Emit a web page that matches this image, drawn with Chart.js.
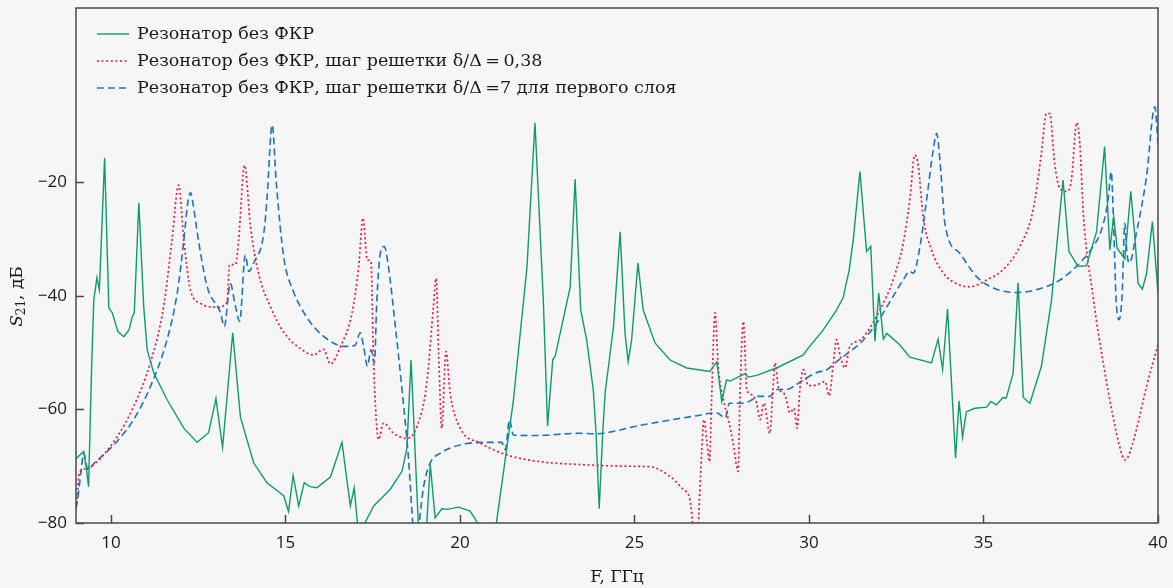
<!DOCTYPE html>
<html>
<head>
<meta charset="utf-8">
<script src="https://cdn.jsdelivr.net/npm/chart.js@4/dist/chart.umd.min.js"></script>
<style>
  html, body { margin: 0; padding: 0; background: #f6f6f6; }
  #wrap { width: 1173px; height: 588px; position: relative; }
</style>
</head>
<body>
<div id="wrap"><canvas id="chart"></canvas></div>
<script>
// частота, ГГц и S21, дБ для трёх кривых
const greenF = [9.0, 9.22, 9.3, 9.36, 9.45, 9.51, 9.6, 9.67, 9.82, 9.94, 10.04, 10.2, 10.37, 10.52, 10.61, 10.67, 10.8, 10.94, 11.04, 11.23, 11.61, 12.09, 12.47, 12.8, 13.01, 13.2, 13.49, 13.71, 14.09, 14.47, 14.95, 15.09, 15.22, 15.38, 15.54, 15.7, 15.9, 16.29, 16.62, 16.86, 16.97, 17.07, 17.16, 17.26, 17.53, 18.0, 18.34, 18.48, 18.6, 18.72, 18.81, 18.93, 19.05, 19.15, 19.29, 19.48, 19.63, 19.96, 20.29, 20.53, 20.75, 21.04, 21.53, 21.92, 22.15, 22.39, 22.51, 22.66, 22.73, 23.16, 23.3, 23.46, 23.63, 23.82, 23.9, 23.99, 24.09, 24.16, 24.4, 24.59, 24.73, 24.82, 24.92, 25.1, 25.25, 25.59, 26.02, 26.5, 27.16, 27.36, 27.5, 27.64, 27.74, 28.17, 28.26, 28.5, 29.07, 29.84, 29.98, 30.41, 30.79, 30.98, 31.15, 31.27, 31.46, 31.65, 31.77, 31.89, 32.0, 32.13, 32.23, 32.6, 32.89, 33.51, 33.7, 33.83, 33.97, 34.2, 34.3, 34.4, 34.51, 34.75, 35.09, 35.21, 35.37, 35.56, 35.65, 35.85, 35.99, 36.14, 36.33, 36.66, 36.95, 37.28, 37.45, 37.71, 37.95, 38.24, 38.47, 38.62, 38.73, 38.83, 39.05, 39.22, 39.33, 39.43, 39.55, 39.67, 39.84, 40.0];
const greenS = [-68.7, -67.4, -70.5, -73.6, -52, -40.7, -36.8, -38.9, -15.7, -42.1, -43.0, -46.3, -47.2, -46, -43.7, -43.0, -23.6, -41.9, -49.5, -53.6, -58.3, -63.3, -65.8, -64.1, -58.1, -66.7, -46.5, -61.3, -69.4, -72.9, -75.2, -78.0, -71.6, -77.0, -72.9, -73.6, -73.8, -71.9, -65.8, -77.0, -73.8, -80.5, -84, -80.2, -77, -74.1, -70.9, -66.8, -51.3, -68.0, -80.5, -84, -80, -69.7, -79.1, -77.5, -77.6, -77.2, -77.9, -80.2, -84, -80.2, -58.5, -35, -9.5, -40.9, -62.9, -51.2, -50.6, -38.4, -19.4, -42.5, -47.7, -56.5, -64.2, -77.5, -64.2, -57.1, -45.4, -28.7, -46.6, -51.6, -47.7, -34.2, -42.5, -48.3, -51.3, -52.7, -53.3, -51.6, -58.6, -54.8, -55.0, -53.7, -54.3, -54.0, -52.7, -50.4, -49.2, -46.0, -42.5, -40.3, -35.5, -30.1, -18.1, -32.2, -31.3, -48, -39.5, -47.6, -46.6, -48.6, -50.8, -51.8, -47.6, -53, -42.3, -68.6, -58.5, -64.9, -60.4, -59.8, -59.6, -58.6, -59.2, -57.9, -58.0, -53.6, -37.7, -57.9, -58.9, -52.4, -40.7, -19.6, -32.2, -34.8, -34.7, -28.7, -13.7, -31.9, -26, -31.6, -33.5, -21.6, -29, -37.8, -38.8, -36.2, -26.9, -39.5];

const redF = [9.0, 9.1, 9.19, 9.39, 9.7, 10.18, 10.65, 11.13, 11.51, 11.75, 11.94, 12.09, 12.28, 12.56, 13.04, 13.33, 13.4, 13.57, 13.66, 13.83, 14.0, 14.23, 14.57, 14.95, 15.43, 15.81, 16.09, 16.29, 16.58, 16.91, 17.1, 17.22, 17.35, 17.45, 17.53, 17.67, 17.81, 18.1, 18.48, 18.77, 19.05, 19.24, 19.32, 19.39, 19.48, 19.6, 19.72, 20.01, 20.58, 21.34, 22.3, 23.44, 24.78, 25.45, 26.02, 26.4, 26.59, 26.67, 26.76, 26.83, 26.93, 26.99, 27.07, 27.15, 27.21, 27.31, 27.4, 27.55, 27.69, 27.83, 27.97, 28.02, 28.12, 28.22, 28.36, 28.5, 28.6, 28.71, 28.88, 28.96, 29.03, 29.12, 29.31, 29.46, 29.57, 29.66, 29.74, 29.84, 29.98, 30.22, 30.46, 30.58, 30.69, 30.79, 30.89, 31.03, 31.17, 31.46, 32.03, 32.41, 32.7, 32.89, 33.03, 33.13, 33.27, 33.51, 33.85, 34.32, 34.61, 35.09, 35.56, 36.04, 36.42, 36.66, 36.8, 36.9, 37.04, 37.19, 37.38, 37.52, 37.67, 37.76, 37.86, 38.14, 38.43, 38.71, 38.9, 39.05, 39.14, 39.38, 39.67, 40.0];
const redS = [-77.4, -71.2, -70.6, -70.2, -68.6, -64.8, -59.5, -51.8, -41.9, -30.2, -20.5, -30.2, -39, -41.3, -42, -41, -34.5, -34.5, -30.2, -17, -27.8, -36, -41.9, -46.4, -49.3, -50.4, -49.4, -52, -48.9, -43, -34.8, -26.3, -33.7, -33.9, -52.4, -65.3, -62.4, -64.2, -65.1, -63, -55.4, -41.9, -36.9, -50.1, -63.3, -49.8, -57.1, -63.3, -65.9, -68, -69.2, -69.7, -70, -70.1, -71.8, -74.1, -75.9, -80.5, -90, -80.5, -67.1, -61.8, -65.3, -69.2, -58.3, -43, -52.4, -58.3, -61.8, -65.9, -70.9, -58.3, -44.5, -56.5, -57.4, -58.9, -61.8, -58.9, -64.2, -57.1, -51.8, -56, -57.4, -60.6, -59.8, -63.3, -56.5, -53, -55.8, -55.7, -55.1, -57.6, -52.4, -47.7, -50.4, -52.7, -48.9, -47.8, -42.5, -37.2, -30.7, -23.1, -15.2, -17, -26, -31.9, -36, -38.1, -38.4, -37.2, -35.4, -31.3, -24.9, -14.9, -7.9, -7.9, -16.7, -21.1, -21.6, -19.6, -9.5, -13.1, -25.5, -40.1, -51.8, -61.2, -66.5, -68.9, -68.4, -63.6, -56, -48.6];

const blueF = [9.0, 9.04, 9.15, 9.22, 9.34, 9.53, 9.91, 10.18, 10.65, 11.13, 11.61, 11.9, 12.09, 12.2, 12.28, 12.35, 12.52, 12.76, 13.14, 13.25, 13.42, 13.57, 13.69, 13.85, 13.95, 14.09, 14.38, 14.47, 14.62, 14.74, 14.95, 15.24, 15.43, 15.81, 16.29, 16.67, 17.0, 17.14, 17.24, 17.35, 17.45, 17.55, 17.62, 17.72, 17.83, 17.95, 18.15, 18.34, 18.53, 18.65, 18.74, 18.84, 18.96, 19.15, 19.44, 19.72, 20.2, 20.77, 21.2, 21.3, 21.42, 21.53, 22.11, 23.44, 23.82, 25.25, 26.69, 27.36, 27.6, 27.72, 28.12, 28.4, 28.55, 28.88, 29.07, 29.36, 29.55, 29.84, 30.22, 30.51, 30.79, 31.17, 31.46, 31.94, 32.41, 32.7, 32.89, 32.99, 33.18, 33.37, 33.56, 33.66, 33.76, 33.9, 34.32, 34.8, 35.28, 35.95, 36.52, 37.19, 37.76, 38.14, 38.38, 38.57, 38.66, 38.73, 38.8, 38.88, 38.97, 39.05, 39.11, 39.18, 39.38, 39.67, 39.91, 40.0];
const blueS = [-77.4, -76.2, -70.6, -67.7, -70.6, -69.4, -67.3, -65.6, -61.8, -56, -47.7, -39.5, -30.2, -23.7, -21.8, -23.7, -30.7, -38.4, -43, -45.4, -37.8, -41.9, -44.5, -32.8, -35.7, -34.2, -29, -23.1, -9.9, -20.2, -33.1, -39.4, -41.9, -45.4, -48, -48.9, -48.7, -46.5, -48.9, -52.4, -49.5, -51.8, -40.7, -32.5, -31.3, -34.8, -45.4, -56.5, -68.9, -80.2, -86, -79.7, -73.6, -69.4, -67.7, -66.8, -66, -65.8, -65.8, -67.1, -61.8, -64.5, -64.6, -64.2, -64.3, -62.7, -61.2, -60.6, -61.5, -58.9, -58.9, -58.2, -57.7, -57.7, -56.5, -56.5, -56, -54.8, -53.5, -53, -51.6, -49.8, -48.4, -44.8, -40.1, -37.2, -35.7, -36, -31.3, -23.1, -14.3, -11.4, -16.7, -27.5, -32.5, -36.6, -38.6, -39.4, -38.9, -37.2, -34.2, -31.3, -28.4, -23.1, -18.1, -27.8, -40.7, -44.2, -40.1, -27.2, -32.5, -34.2, -29, -19, -6.7, -13.1];

const seriesLabels = [
  'Резонатор без ФКР',
  'Резонатор без ФКР, шаг решетки δ/Δ\u2009=\u20090,38',
  'Резонатор без ФКР, шаг решетки δ/Δ\u2009=7 для первого слоя'
];
const xTicks = [10, 15, 20, 25, 30, 35, 40];
const yTicks = [-80, -60, -40, -20];

const zip = (xs, ys) => xs.map((x, i) => ({ x: x, y: ys[i] }));

const serif = '"DejaVu Serif", serif';

// рамка, внутренние засечки, легенда и подпись оси Y
const decor = {
  id: 'decor',
  afterDraw(chart) {
    const ctx = chart.ctx;
    const a = chart.chartArea;
    const xs = chart.scales.x, ys = chart.scales.y;
    ctx.save();
    ctx.strokeStyle = '#4a4a4a';
    ctx.lineWidth = 1.5;
    ctx.setLineDash([]);
    ctx.strokeRect(a.left, a.top, a.right - a.left, a.bottom - a.top);
    ctx.beginPath();
    xTicks.forEach(v => {
      const px = Math.round(xs.getPixelForValue(v)) + 0.5;
      ctx.moveTo(px, a.bottom); ctx.lineTo(px, a.bottom - 8);
    });
    yTicks.forEach(v => {
      const py = Math.round(ys.getPixelForValue(v)) + 0.5;
      ctx.moveTo(a.left, py); ctx.lineTo(a.left + 8, py);
    });
    ctx.stroke();

    // легенда
    ctx.font = '17.5px ' + serif;
    ctx.textBaseline = 'middle';
    ctx.fillStyle = '#1a1a1a';
    chart.data.datasets.forEach((ds, i) => {
      const y = a.top + 26 + i * 27;
      ctx.strokeStyle = ds.borderColor;
      ctx.lineWidth = ds.borderWidth;
      ctx.setLineDash(ds.borderDash || []);
      ctx.beginPath();
      ctx.moveTo(a.left + 21, y); ctx.lineTo(a.left + 53, y);
      ctx.stroke();
      ctx.fillText(ds.label, a.left + 61, y);
    });

    // S21, дБ
    ctx.setLineDash([]);
    ctx.translate(18, (a.top + a.bottom) / 2 + 31);
    ctx.rotate(-Math.PI / 2);
    const parts = [
      { t: 'S', f: 'italic 17px ' + serif, dy: 0 },
      { t: '21', f: '12px ' + serif, dy: 4 },
      { t: ', дБ', f: '17px ' + serif, dy: 0 }
    ];
    let total = 0;
    parts.forEach(p => { ctx.font = p.f; p.w = ctx.measureText(p.t).width; total += p.w; });
    let cx = -total / 2;
    ctx.textAlign = 'left';
    parts.forEach(p => { ctx.font = p.f; ctx.fillText(p.t, cx, p.dy); cx += p.w; });
    ctx.restore();
  }
};

new Chart(document.getElementById('chart'), {
  type: 'line',
  data: {
    datasets: [
      {
        label: seriesLabels[0],
        data: zip(greenF, greenS),
        borderColor: '#0f9a6c',
        borderWidth: 1.4,
        pointRadius: 0,
        tension: 0
      },
      {
        label: seriesLabels[1],
        data: zip(redF, redS),
        borderColor: '#e8173f',
        borderWidth: 1.7,
        borderDash: [2, 2.6],
        pointRadius: 0,
        cubicInterpolationMode: 'monotone'
      },
      {
        label: seriesLabels[2],
        data: zip(blueF, blueS),
        borderColor: '#1b72c4',
        borderWidth: 1.6,
        borderDash: [7, 4],
        pointRadius: 0,
        cubicInterpolationMode: 'monotone'
      }
    ]
  },
  options: {
    responsive: true,
    maintainAspectRatio: false,
    animation: false,
    layout: { padding: { top: 8, right: 15, left: 0, bottom: 0 } },
    plugins: {
      legend: { display: false },
      tooltip: { enabled: false }
    },
    scales: {
      x: {
        type: 'linear',
        min: 9,
        max: 40,
        grid: { display: false, drawTicks: false },
        border: { display: false },
        afterBuildTicks: s => { s.ticks = xTicks.map(v => ({ value: v })); },
        afterFit: s => { s.height = 65; s.paddingLeft = 0; s.paddingRight = 0; },
        ticks: {
          padding: 10,
          maxRotation: 0,
          color: '#1a1a1a',
          font: { family: '"Open Sans"', size: 17 }
        },
        title: {
          display: true,
          text: 'F, ГГц',
          color: '#1a1a1a',
          font: { family: serif, size: 17 },
          padding: { top: 0, bottom: 0 }
        }
      },
      y: {
        min: -80,
        max: 10.7,
        grid: { display: false, drawTicks: false },
        border: { display: false },
        afterBuildTicks: s => { s.ticks = yTicks.map(v => ({ value: v })); },
        afterFit: s => { s.width = 76; s.paddingTop = 0; s.paddingBottom = 0; },
        ticks: {
          padding: 9,
          color: '#1a1a1a',
          font: { family: '"Open Sans"', size: 17 },
          callback: v => String(v).replace('-', '\u2212')
        }
      }
    }
  },
  plugins: [decor]
});
</script>
</body>
</html>
